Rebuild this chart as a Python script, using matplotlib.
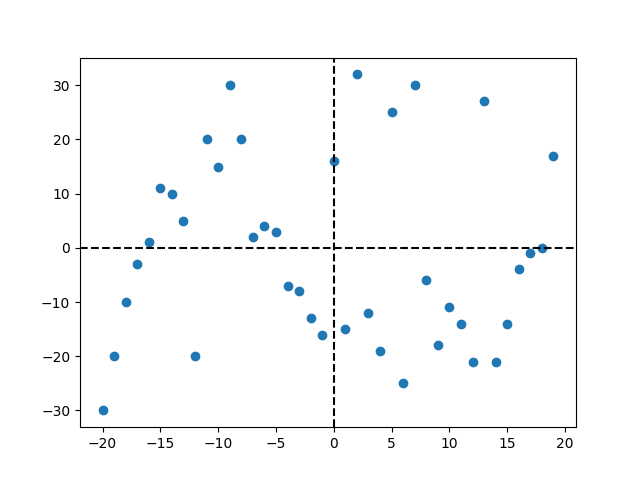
import matplotlib
matplotlib.use("Agg")
import matplotlib.pyplot as plt

x = list(range(-20, 20))
y = [-30, -20, -10, -3, 1, 11, 10, 5, -20, 20,
     15, 30, 20, 2, 4, 3, -7, -8, -13, -16,
     16, -15, 32, -12, -19, 25, -25, 30, -6, -18,
     -11, -14, -21, 27, -21, -14, -4, -1, 0, 17]

fig, ax = plt.subplots(figsize=(6.4, 4.8), dpi=100)
ax.scatter(x, y)
ax.axhline(0, color='black', linestyle='--')
ax.axvline(0, color='black', linestyle='--')
fig.savefig("out.png")
